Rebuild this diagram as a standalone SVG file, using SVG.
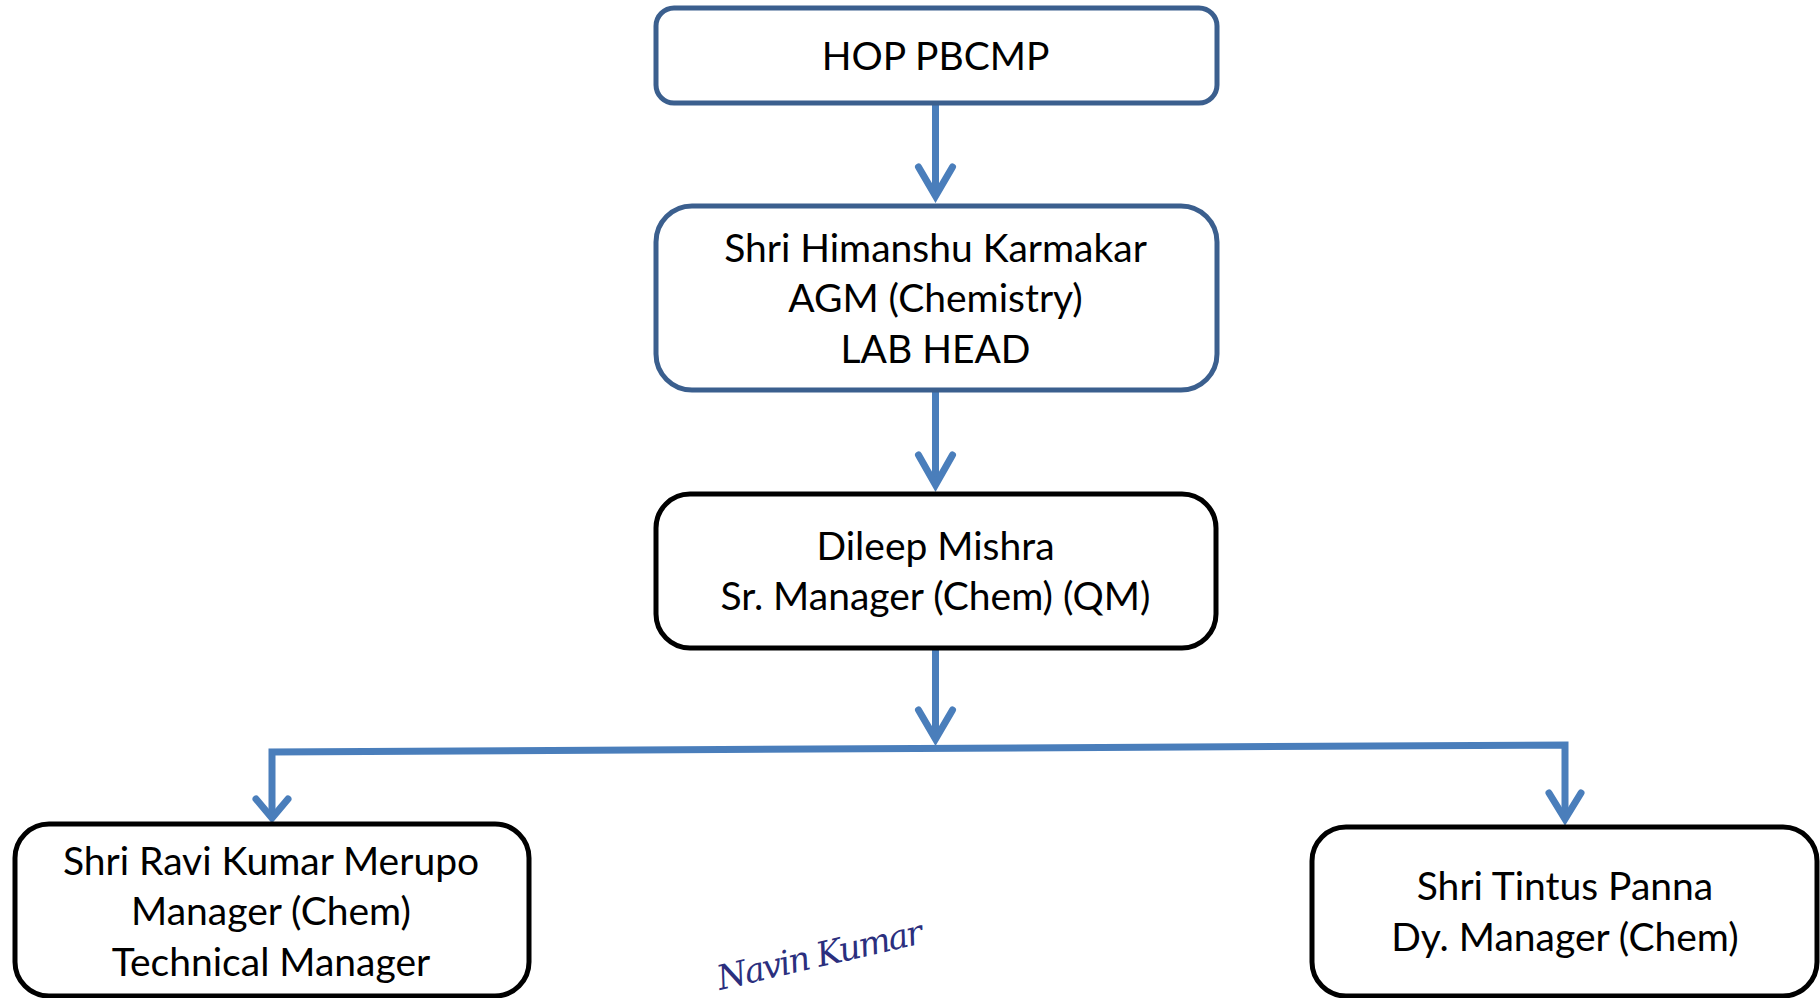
<svg xmlns="http://www.w3.org/2000/svg" width="1820" height="998" viewBox="0 0 1820 998">
<style>
.box{fill:#ffffff;stroke-width:5}
.blue{stroke:#3b5f8e}
.black{stroke:#000000}
.t{font-family:Lato,"Liberation Sans",sans-serif;font-size:39px;fill:#000000;text-anchor:middle}
.ln{fill:none;stroke:#4a7ebb;stroke-width:7}
.ah{fill:none;stroke:#4a7ebb;stroke-width:7;stroke-linecap:round;stroke-linejoin:miter}
.sig{font-family:"DejaVu Serif",serif;font-style:italic;font-size:34px;fill:#2b2f7e}
</style>
<rect width="1820" height="998" fill="#ffffff"/>
<g id="connectors">
<path class="ln" d="M935.5,104 L935.5,194"/>
<path class="ah" d="M918.5,167 L935.5,196 L952.5,167"/>
<path class="ln" d="M935.5,390 L935.5,484"/>
<path class="ah" d="M918.5,455 L935.5,485 L952.5,455"/>
<path class="ln" d="M935.5,648 L935.5,737"/>
<path class="ah" d="M918.5,710 L935.5,739 L952.5,710"/>
<path class="ln" d="M272,816 L272,752 L1565,745 L1565,818"/>
<path class="ah" d="M256,799 L272,818 L288,799"/>
<path class="ah" d="M1549,793 L1565,819 L1581,793"/>
</g>
<g id="node-hop">
<rect class="box blue" x="656" y="8" width="561" height="95" rx="18"/>
<text class="t" x="935.5" y="70">HOP PBCMP</text>
</g>
<g id="node-karmakar">
<rect class="box blue" x="656" y="206" width="561" height="184" rx="36"/>
<text class="t" x="935.5" y="262">Shri Himanshu Karmakar</text>
<text class="t" x="935.5" y="312">AGM (Chemistry)</text>
<text class="t" x="935.5" y="363">LAB HEAD</text>
</g>
<g id="node-mishra">
<rect class="box black" x="656" y="494" width="560" height="154" rx="34"/>
<text class="t" x="935.5" y="560">Dileep Mishra</text>
<text class="t" x="935.5" y="610">Sr. Manager (Chem) (QM)</text>
</g>
<g id="node-merupo">
<rect class="box black" x="15" y="824" width="514" height="172" rx="34"/>
<text class="t" x="271" y="875">Shri Ravi Kumar Merupo</text>
<text class="t" x="271" y="925">Manager (Chem)</text>
<text class="t" x="271" y="976">Technical Manager</text>
</g>
<g id="node-panna">
<rect class="box black" x="1312" y="827" width="505" height="169" rx="34"/>
<text class="t" x="1565" y="900">Shri Tintus Panna</text>
<text class="t" x="1565" y="951">Dy. Manager (Chem)</text>
</g>
<text class="sig" x="720" y="990" transform="rotate(-13 720 990)" textLength="210">Navin Kumar</text>
</svg>
